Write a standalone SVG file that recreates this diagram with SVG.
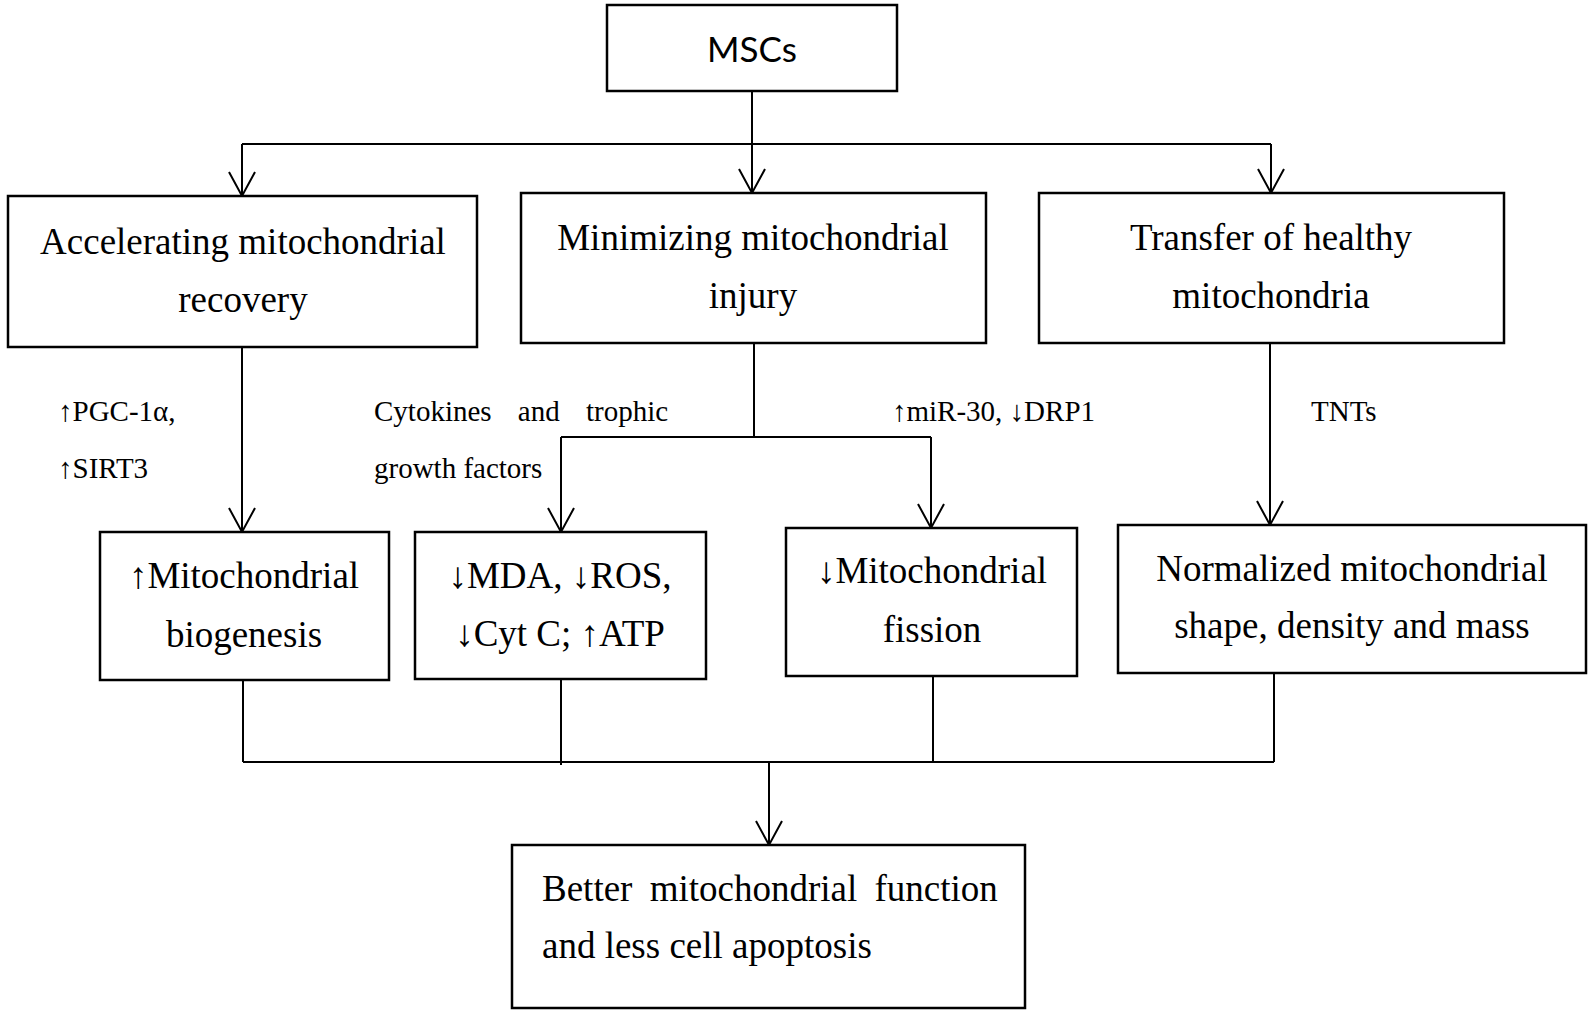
<svg xmlns="http://www.w3.org/2000/svg" width="1595" height="1013" viewBox="0 0 1595 1013">
<style>
.box{fill:#fff;stroke:#000;stroke-width:2.5}
.t{font-family:"Liberation Serif","Times New Roman",serif;font-size:37px;fill:#000;text-anchor:middle}
.s{text-anchor:start}
.l{font-family:"Liberation Serif","Times New Roman",serif;font-size:29px;fill:#000}
.c{fill:none;stroke:#000;stroke-width:2}
</style>
<defs>
<marker id="arr" markerUnits="userSpaceOnUse" viewBox="-27 -15 30 30" markerWidth="30" markerHeight="30" refX="0" refY="0" orient="auto">
<path d="M-24,-13 L0,0 L-24,13" fill="none" stroke="#000" stroke-width="2"/>
</marker>
</defs>
<rect width="1595" height="1013" fill="#fff"/>
<g id="connectors">
<path class="c" d="M752 91 V193" marker-end="url(#arr)"/>
<path class="c" d="M242 144 H1271"/>
<path class="c" d="M242 144 V196" marker-end="url(#arr)"/>
<path class="c" d="M1271 144 V193" marker-end="url(#arr)"/>
<path class="c" d="M242 347 V532" marker-end="url(#arr)"/>
<path class="c" d="M754 343 V437"/>
<path class="c" d="M561 437 H931"/>
<path class="c" d="M561 437 V532" marker-end="url(#arr)"/>
<path class="c" d="M931 437 V528" marker-end="url(#arr)"/>
<path class="c" d="M1270 343 V525" marker-end="url(#arr)"/>
<path class="c" d="M243 680 V762 M561 679 V765 M933 676 V762 M1274 673 V762 M243 762 H1274"/>
<path class="c" d="M769 762 V845" marker-end="url(#arr)"/>
</g>
<g id="labels">
<text class="l" x="58" y="421">↑PGC-1α,</text>
<text class="l" x="58" y="478">↑SIRT3</text>
<text class="l" x="374" y="421" word-spacing="19">Cytokines and trophic</text>
<text class="l" x="374" y="478">growth factors</text>
<text class="l" x="892" y="421">↑miR-30, ↓DRP1</text>
<text class="l" x="1311" y="421">TNTs</text>
</g>
<g id="msc">
<rect class="box" x="607" y="5" width="290" height="86"/>
<text x="752" y="62" font-family="Lato,'Open Sans',sans-serif" font-size="35" text-anchor="middle">MSCs</text>
</g>
<g id="accelerating">
<rect class="box" x="8" y="196" width="469" height="151"/>
<text class="t" x="243" y="254">Accelerating mitochondrial</text>
<text class="t" x="243" y="312">recovery</text>
</g>
<g id="minimizing">
<rect class="box" x="521" y="193" width="465" height="150"/>
<text class="t" x="753" y="250">Minimizing mitochondrial</text>
<text class="t" x="753" y="308">injury</text>
</g>
<g id="transfer">
<rect class="box" x="1039" y="193" width="465" height="150"/>
<text class="t" x="1271" y="250">Transfer of healthy</text>
<text class="t" x="1271" y="308">mitochondria</text>
</g>
<g id="biogenesis">
<rect class="box" x="100" y="532" width="289" height="148"/>
<text class="t" x="244" y="588">↑Mitochondrial</text>
<text class="t" x="244" y="647">biogenesis</text>
</g>
<g id="mda">
<rect class="box" x="415" y="532" width="291" height="147"/>
<text class="t" x="560" y="588">↓MDA, ↓ROS,</text>
<text class="t" x="560" y="646">↓Cyt C; ↑ATP</text>
</g>
<g id="fission">
<rect class="box" x="786" y="528" width="291" height="148"/>
<text class="t" x="932" y="583">↓Mitochondrial</text>
<text class="t" x="932" y="642">fission</text>
</g>
<g id="normalized">
<rect class="box" x="1118" y="525" width="468" height="148"/>
<text class="t" x="1352" y="581">Normalized mitochondrial</text>
<text class="t" x="1352" y="638">shape, density and mass</text>
</g>
<g id="better">
<rect class="box" x="512" y="845" width="513" height="163"/>
<text class="t s" x="542" y="901" word-spacing="8">Better mitochondrial function</text>
<text class="t s" x="542" y="958">and less cell apoptosis</text>
</g>
</svg>
